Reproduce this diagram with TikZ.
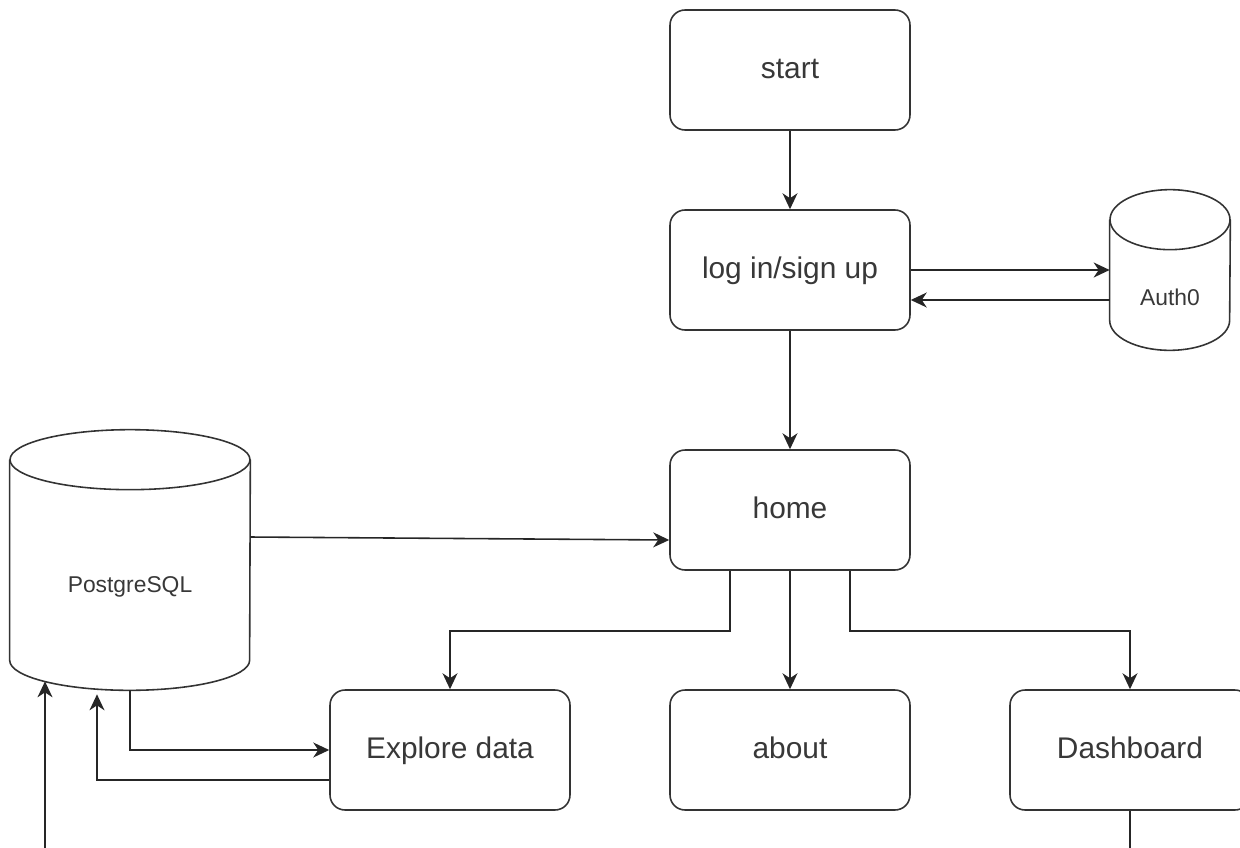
\documentclass[tikz,border=0pt]{standalone}
\usepackage{fontspec}
\setmainfont{Liberation Sans}
\usetikzlibrary{positioning,arrows.meta,calc}

\begin{document}
\begin{tikzpicture}[
	x=0.02cm, y=0.02cm,
	box/.style={draw=black!80, line width=0.9pt, rounded corners=0.3cm,
		minimum width=4.8cm, minimum height=2.4cm,
		text height=2.2ex, text depth=0.45ex,
		text=black!78, font=\fontsize{17}{20}\selectfont},
	store/.style={inner sep=0pt},
	dbtext/.style={text=black!78, font=\fontsize{13}{16}\selectfont},
	cyl/.style={draw=black!80, line width=0.9pt},
	arr/.style={line width=0.9pt, draw=black!85,
		-{Stealth[length=3.2mm,width=3mm,inset=1mm]}}
	]
	
	\useasboundingbox (0,0) rectangle (1240,-848);
	
	% flow boxes
	\node[box] (start) at (790,-70) {start};
	\node[box] (login) at (790,-270) {log in/sign up};
	\node[box] (home) at (790,-510) {home};
	\node[box] (explore) at (450,-750) {Explore data};
	\node[box] (about) at (790,-750) {about};
	\node[box] (dash) at (1130,-750) {Dashboard};
	
	% databases
	\node[
	store,
	minimum width=2.4cm,
	minimum height=3.2cm
	]
	(auth)
	at (1170,-270)
	{};
	\node[dbtext] (authtext) at ([yshift=-0.54cm]auth.center) {Auth0};
	
	\node[
	store,
	minimum width=4.8cm,
	minimum height=5.2cm
	]
	(pg)
	at (130,-560)
	{};
	\node[dbtext] (pgtext) at ([yshift=-0.54cm]pg.center) {PostgreSQL};
	
	\draw[cyl] ([yshift=-0.6cm]auth.north) ellipse [x radius=1.2cm, y radius=0.6cm];
	\draw[cyl] ([yshift=-0.6cm]auth.north west) -- ([yshift=0.6cm]auth.south west)
		arc[start angle=180, end angle=360, x radius=1.2cm, y radius=0.6cm]
		-- ([yshift=-0.6cm]auth.north east);
	
	\draw[cyl] ([yshift=-0.6cm]pg.north) ellipse [x radius=2.4cm, y radius=0.6cm];
	\draw[cyl] ([yshift=-0.6cm]pg.north west) -- ([yshift=0.6cm]pg.south west)
		arc[start angle=180, end angle=360, x radius=2.4cm, y radius=0.6cm]
		-- ([yshift=-0.6cm]pg.north east);
	
	% connectors
	\draw[arr] (start) -- (login);
	\draw[arr] (login.east) -- (auth.west);
	\draw[arr] ([yshift=-0.6cm]auth.west) -- ([yshift=-0.6cm]login.east);
	\draw[arr] (login) -- (home);
	\draw[arr] ([yshift=0.46cm]pg.east) -- ([yshift=-0.6cm]home.west);
	
	\draw[arr] ([xshift=-1.2cm]home.south) -- ++(0,-60) -| (explore.north);
	\draw[arr] (home) -- (about);
	\draw[arr] ([xshift=1.2cm]home.south) -- ++(0,-60) -| (dash.north);
	
	\draw[arr] (pg.south) |- (explore.west);
	\draw[arr] ([yshift=-0.6cm]explore.west) -| ($(pg.south)+(-33,-4)$);
	\draw[arr] (dash.south) -- ++(0,-60) -| ($(pg.south)+(-85,9)$);
	
\end{tikzpicture}
\end{document}
